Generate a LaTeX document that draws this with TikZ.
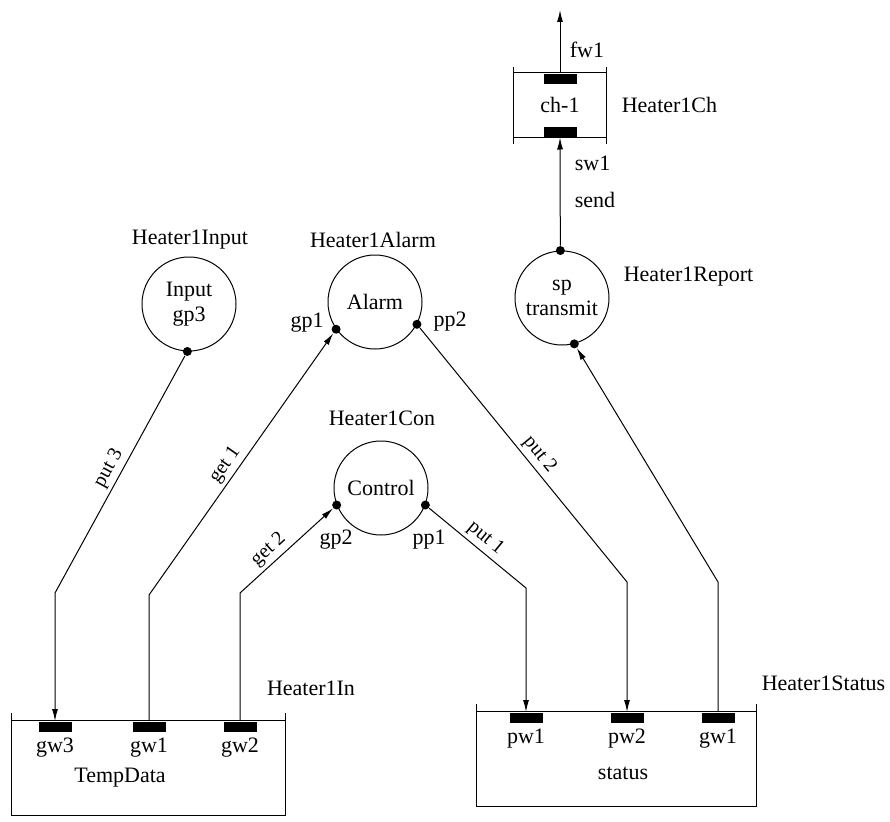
\documentclass[tikz,border=0pt]{standalone}
\usepackage{fontspec}
\setmainfont{Liberation Serif}
\usetikzlibrary{arrows.meta,positioning}

\begin{document}
\begin{tikzpicture}[
  x=1pt, y=-1pt, >={Latex[length=12pt,width=6pt]},
  font=\fontsize{22}{25}\selectfont, line width=1pt,
  proc/.style={draw, circle, minimum size=94pt, inner sep=0pt, align=center},
  store/.style={minimum width=#1, minimum height=94pt, inner sep=0pt},
  port/.style={fill=black, minimum width=33pt, minimum height=10pt, inner sep=0pt},
  joint/.style={fill=black, circle, minimum size=9pt, inner sep=0pt},
  tag/.style={sloped, above, font=\fontsize{20}{24}\selectfont}
]
\useasboundingbox (0,0) rectangle (890,821);

\node[proc] (input)   at (189,304) {Input\\gp3};
\node[proc] (alarm)   at (375,302) {Alarm};
\node[proc] (control) at (381,488) {Control};
\node[proc] (report)  at (562,298) {sp\\transmit};
\node (inputname) at (190,240) {Heater1Input};
\node (alarmname) at (373,240) {Heater1Alarm};
\node (conname)   at (382,418) {Heater1Con};
\node[anchor=west] (reportname) at (620,277) {Heater1Report};

\node[joint] (gp3)   at (input.-92) {};
\node[joint] (gp1)   at (alarm.-145) {};
\node[joint] (pp2)   at (alarm.-28) {};
\node[joint] (gp2)   at (control.-159) {};
\node[joint] (pp1)   at (control.-21) {};
\node[joint] (sptop) at (report.92) {};
\node[joint] (spbot) at (report.-75) {};
\node (gp1name) at (307,323) {gp1};
\node (pp2name) at (450,322) {pp2};
\node (gp2name) at (336,540) {gp2};
\node (pp1name) at (429,540) {pp1};

\node[minimum width=92pt, minimum height=64pt] (ch) at (560,105) {ch-1};
\draw ([yshift=5pt]ch.north west) -- ([yshift=-7pt]ch.south west);
\draw ([yshift=5pt]ch.north east) -- ([yshift=-7pt]ch.south east);
\draw (ch.north west) -- (ch.north east) (ch.south west) -- (ch.south east);
\node[port, below=1pt of ch.north] (fwp) {};
\node[port, above=0pt of ch.south] (swp) {};
\coordinate (chout) at (560,10);
\node[anchor=west] (fw1) at (566,50) {fw1};
\node[anchor=west] (sw1) at (571,163) {sw1};
\node[anchor=west] (send) at (571,200) {send};
\node[anchor=west] (chname) at (618,105) {Heater1Ch};

\node[store=273pt] (tempdata) at (148.5,768) {};
\draw ([yshift=8pt]tempdata.north west) -- (tempdata.south west) -- (tempdata.south east) -- ([yshift=8pt]tempdata.north east);
\draw (tempdata.north west) -- (tempdata.north east);
\node[port, anchor=north] (gw3) at (55,721) {};
\node[port, anchor=north] (gw1) at (149,721) {};
\node[port, anchor=north] (gw2) at (240,721) {};
\node[below=2pt of gw3] (gw3name) {gw3};
\node[below=2pt of gw1] (gw1name) {gw1};
\node[below=2pt of gw2] (gw2name) {gw2};
\node (tempname) at (120,778) {TempData};
\node (inname) at (311,688) {Heater1In};

\node[store=279pt] (status) at (616.5,759) {};
\draw ([yshift=8pt]status.north west) -- (status.south west) -- (status.south east) -- ([yshift=8pt]status.north east);
\draw (status.north west) -- (status.north east);
\node[port, anchor=north] (pw1)  at (526,712) {};
\node[port, anchor=north] (pw2)  at (627,712) {};
\node[port, anchor=north] (sgw1) at (718,712) {};
\node[below=2pt of pw1]  (pw1name)  {pw1};
\node[below=2pt of pw2]  (pw2name)  {pw2};
\node[below=2pt of sgw1] (sgw1name) {gw1};
\node (statusname) at (623,773) {status};
\node[anchor=east] (heatstatus) at (889,683) {Heater1Status};

\draw[->] (gp3) -- node[tag, pos=.5]{put 3} ([yshift=128pt]gw3.north) -- (gw3.north);
\draw[->] (gw1.north) -- ([yshift=126pt]gw1.north) -- node[tag, pos=.47]{get 1} (gp1);
\draw[->] (gw2.north) -- ([yshift=128pt]gw2.north) -- node[tag, pos=.4]{get 2} (gp2);
\draw[->] (pp1) -- node[tag, pos=.5]{put 1} ([yshift=124pt]pw1.north) -- (pw1.north);
\draw[->] (pp2) -- node[tag, pos=.53]{put 2} ([yshift=130pt]pw2.north) -- (pw2.north);
\draw[->] (sgw1.north) -- ([yshift=130pt]sgw1.north) -- (spbot);
\draw[->] (sptop) -- (swp.south);
\draw[->] (fwp.north) -- (chout);
\end{tikzpicture}
\end{document}
